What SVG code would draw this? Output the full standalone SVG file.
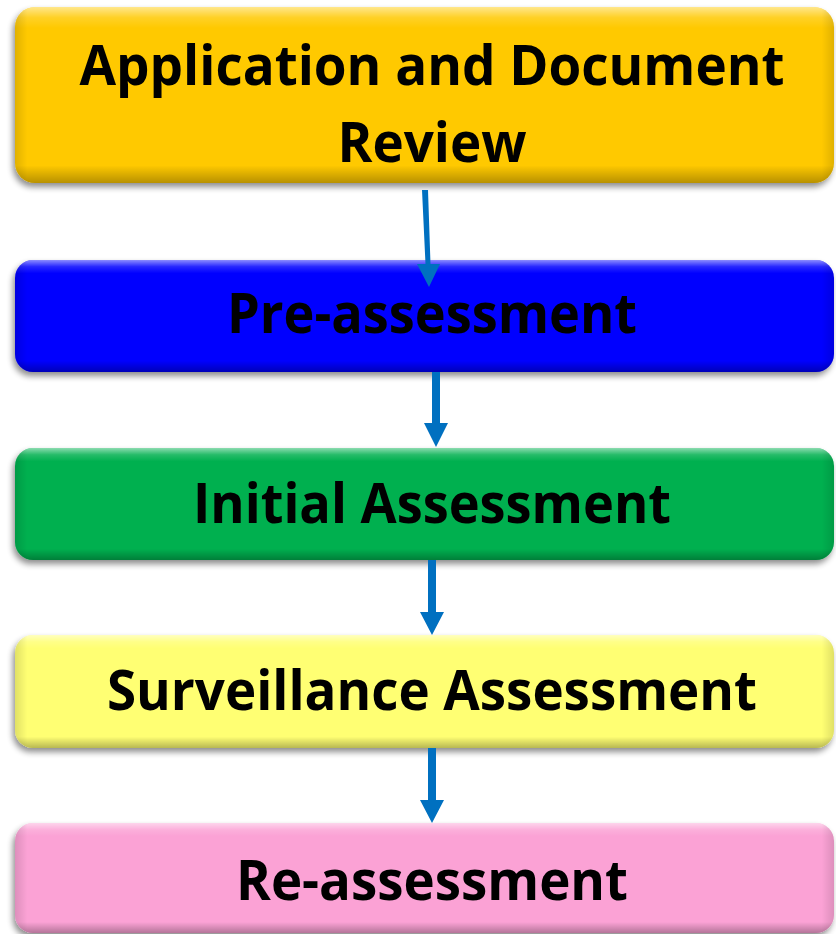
<svg xmlns="http://www.w3.org/2000/svg" width="836" height="934" viewBox="0 0 836 934">
  <defs>
    <filter id="shadow" x="-5%" y="-20%" width="110%" height="140%">
      <feGaussianBlur in="SourceAlpha" stdDeviation="3"/>
      <feOffset dx="-2" dy="4" result="b"/>
      <feComponentTransfer><feFuncA type="linear" slope="0.45"/></feComponentTransfer>
      <feMerge><feMergeNode/><feMergeNode in="SourceGraphic"/></feMerge>
    </filter>
    <!-- bevel: light rim at the top, darker rim at the bottom -->
    <linearGradient id="bevel" x1="0" y1="0" x2="0" y2="1">
      <stop offset="0" stop-color="#fff" stop-opacity="0.55"/>
      <stop offset="0.06" stop-color="#fff" stop-opacity="0.15"/>
      <stop offset="0.12" stop-color="#fff" stop-opacity="0"/>
      <stop offset="0.9" stop-color="#000" stop-opacity="0"/>
      <stop offset="1" stop-color="#000" stop-opacity="0.28"/>
    </linearGradient>
    <linearGradient id="bevelSide" x1="0" y1="0" x2="1" y2="0">
      <stop offset="0" stop-color="#000" stop-opacity="0.12"/>
      <stop offset="0.015" stop-color="#000" stop-opacity="0"/>
      <stop offset="0.985" stop-color="#000" stop-opacity="0"/>
      <stop offset="1" stop-color="#000" stop-opacity="0.12"/>
    </linearGradient>
  </defs>
  <style>
    .box { filter: url(#shadow); }
    .sheen { fill: url(#bevel); }
    .side { fill: url(#bevelSide); }
    .label { font-family: "Open Sans", "Liberation Sans", sans-serif; font-weight: bold; font-size: 56px; fill: #000; text-anchor: middle; font-variant-ligatures: none; }
    .arrow { fill: #0070C0; }
  </style>

  <rect width="836" height="934" fill="#fff"/>

  <g id="node-application-review">
    <g class="box">
      <rect x="15" y="7" width="819" height="176" rx="20" fill="#FFC906"/>
    </g>
    <rect class="sheen" x="15" y="7" width="819" height="176" rx="20"/>
    <rect class="side" x="15" y="7" width="819" height="176" rx="20"/>
    <text class="label" x="432" y="85" textLength="705" lengthAdjust="spacingAndGlyphs">Application and Document</text>
    <text class="label" x="432" y="162" textLength="189" lengthAdjust="spacingAndGlyphs">Review</text>
  </g>

  <g id="node-pre-assessment">
    <g class="box">
      <rect x="15" y="260" width="819" height="112" rx="18" fill="#0000FF"/>
    </g>
    <rect class="sheen" x="15" y="260" width="819" height="112" rx="18"/>
    <rect class="side" x="15" y="260" width="819" height="112" rx="18"/>
    <text class="label" x="432" y="333" textLength="410" lengthAdjust="spacingAndGlyphs">Pre-assessment</text>
  </g>

  <g id="node-initial-assessment">
    <g class="box">
      <rect x="15" y="448" width="819" height="112" rx="18" fill="#00B050"/>
    </g>
    <rect class="sheen" x="15" y="448" width="819" height="112" rx="18"/>
    <rect class="side" x="15" y="448" width="819" height="112" rx="18"/>
    <text class="label" x="432" y="523" textLength="478" lengthAdjust="spacingAndGlyphs">Initial Assessment</text>
  </g>

  <g id="node-surveillance-assessment">
    <g class="box">
      <rect x="15" y="635" width="819" height="113" rx="18" fill="#FFFF73"/>
    </g>
    <rect class="sheen" x="15" y="635" width="819" height="113" rx="18"/>
    <rect class="side" x="15" y="635" width="819" height="113" rx="18"/>
    <text class="label" x="432" y="710" textLength="650" lengthAdjust="spacingAndGlyphs">Surveillance Assessment</text>
  </g>

  <g id="node-re-assessment">
    <g class="box">
      <rect x="15" y="823" width="819" height="110" rx="18" fill="#FBA2D5"/>
    </g>
    <rect class="sheen" x="15" y="823" width="819" height="110" rx="18"/>
    <rect class="side" x="15" y="823" width="819" height="110" rx="18"/>
    <text class="label" x="432" y="900" textLength="392" lengthAdjust="spacingAndGlyphs">Re-assessment</text>
  </g>

  <!-- arrows sit on top of the boxes -->
  <g id="connectors">
    <polygon class="arrow" points="422,190 428,190 430.5,264 440,264 429,287 417,264 425.5,264"/>
    <polygon class="arrow" points="432,372 440,372 440,423 448,423 436,447 424,423 432,423"/>
    <polygon class="arrow" points="428,560 436,560 436,612 444,612 432,635 420,612 428,612"/>
    <polygon class="arrow" points="428,748 436,748 436,800 444,800 432,823 420,800 428,800"/>
  </g>
</svg>
